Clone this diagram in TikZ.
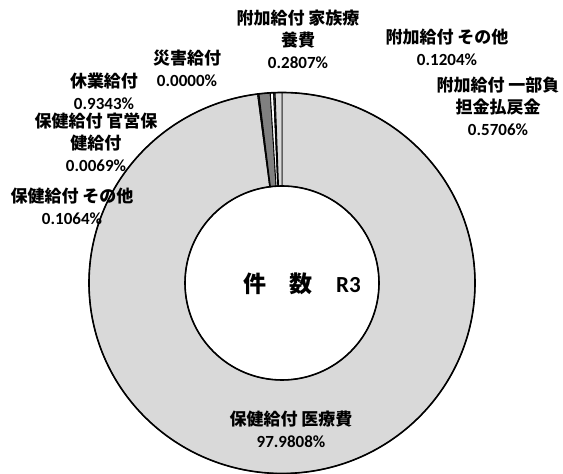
\documentclass[tikz,border=0pt]{standalone}
\usepackage{fontspec}
\setmainfont{Carlito}[BoldFont={Carlito Bold}]
\newfontfamily\jp{Noto Sans CJK JP}[BoldFont={Noto Sans CJK JP Black}]
\newcommand\donutsector[3]{%
  \filldraw[slicebd,#3] (#1:193pt and 190.5pt)
    arc[start angle=#1,end angle=#2,x radius=193pt,y radius=190.5pt]
    -- (#2:97pt) arc[start angle=#2,end angle=#1,radius=97pt] -- cycle;}
\begin{document}
\begin{tikzpicture}[x=1pt,y=1pt,
  lbl/.style={font=\bfseries\fontsize{17}{22}\selectfont, align=center, inner sep=0pt},
  slicebd/.style={draw=black, line width=0.9pt},
  ring/.style={draw=black, line width=1.6pt}]
\useasboundingbox (0,0) rectangle (563,474);
\fill[white] (0,0) rectangle (563,474);
\coordinate (C) at (282,191);
\begin{scope}[shift={(C)}]
  \donutsector{97.2694}{450}{fill=black!15}
  \donutsector{96.8864}{97.2694}{fill=black!45}
  \donutsector{96.8616}{96.8864}{fill=black}
  \donutsector{93.4981}{96.8616}{fill=black!50}
  \donutsector{92.4876}{93.4981}{fill=white}
  \donutsector{92.0542}{92.4876}{fill=black!60}
  \donutsector{90}{92.0542}{fill=black!15}
  \draw[ring] (0,0) ellipse [x radius=193pt, y radius=190.5pt];
  \draw[ring] (0,0) circle [radius=97pt];
\end{scope}
\node[lbl] (saigai) at (187,406) {{\jp 災害給付}\\0.0000\%};
\node[lbl] (kyugyo) at (104,383) {{\jp 休業給付}\\0.9343\%};
\node[lbl] (kanei) at (96,332) {{\jp 保健給付 官営保}\\{\jp 健給付}\\0.0069\%};
\node[lbl] (hsonota) at (72,268) {{\jp 保健給付 その他}\\0.1064\%};
\node[lbl] (kazoku) at (298,435) {{\jp 附加給付 家族療}\\{\jp 養費}\\0.2807\%};
\node[lbl] (fsonota) at (447,426.5) {{\jp 附加給付 その他}\\0.1204\%};
\node[lbl] (ichibu) at (498,367.5) {{\jp 附加給付 一部負}\\{\jp 担金払戻金}\\0.5706\%};
\node[lbl] (iryo) at (291,44.5) {{\jp 保健給付 医療費}\\97.9808\%};
\node[font=\bfseries\fontsize{23}{26}\selectfont, inner sep=0pt] (center) at (302,190)
  {{\jp 件\hspace{23pt}数}\hspace{24pt}R3};
\end{tikzpicture}
\end{document}
